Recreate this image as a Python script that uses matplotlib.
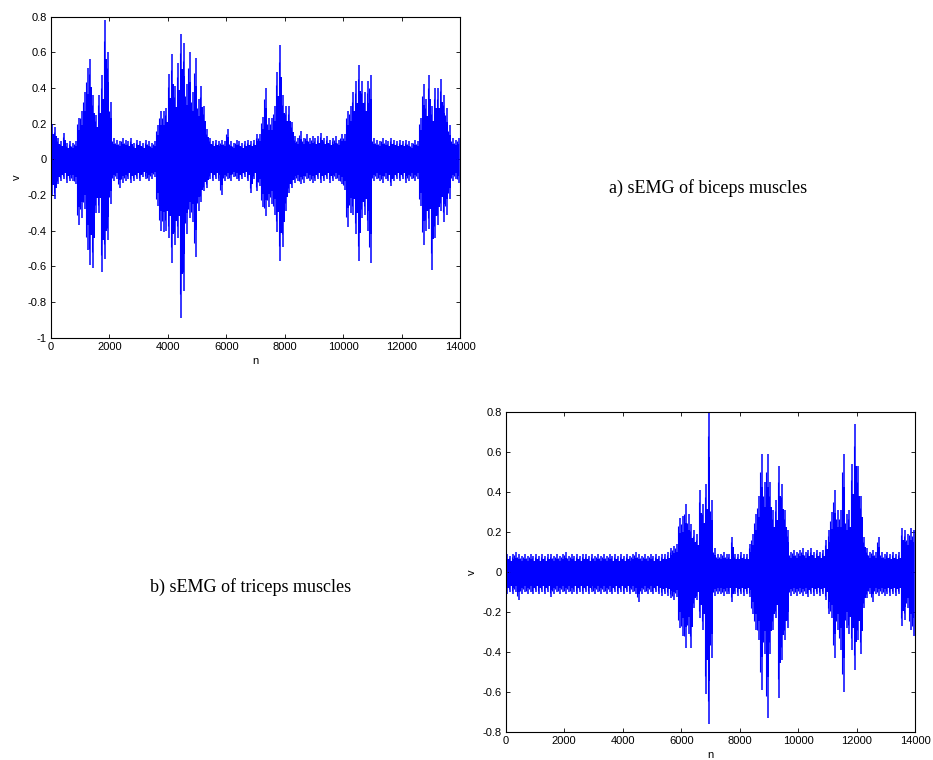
import numpy as np
import matplotlib
matplotlib.use("Agg")
import matplotlib.pyplot as plt
from matplotlib.ticker import FuncFormatter

# envelope of the signal, max / min per block of 100 samples
bin_size = 100

biceps_hi = [0.20, 0.18, 0.12, 0.10, 0.15, 0.09, 0.10, 0.09, 0.10, 0.23,
             0.27, 0.38, 0.51, 0.56, 0.36, 0.25, 0.36, 0.47, 0.78, 0.60,
             0.32, 0.12, 0.11, 0.10, 0.12, 0.11, 0.10, 0.12, 0.09, 0.11,
             0.10, 0.09, 0.11, 0.10, 0.09, 0.10, 0.19, 0.27, 0.27, 0.29,
             0.48, 0.59, 0.41, 0.54, 0.70, 0.65, 0.42, 0.60, 0.38, 0.57,
             0.34, 0.41, 0.30, 0.17, 0.12, 0.10, 0.11, 0.10, 0.11, 0.10,
             0.17, 0.10, 0.09, 0.11, 0.10, 0.09, 0.10, 0.11, 0.10, 0.11,
             0.14, 0.14, 0.24, 0.40, 0.23, 0.23, 0.30, 0.49, 0.64, 0.36,
             0.30, 0.30, 0.21, 0.13, 0.12, 0.16, 0.12, 0.14, 0.12, 0.13,
             0.12, 0.13, 0.15, 0.12, 0.13, 0.11, 0.12, 0.13, 0.11, 0.14,
             0.14, 0.27, 0.30, 0.38, 0.44, 0.53, 0.44, 0.38, 0.44, 0.47,
             0.12, 0.11, 0.10, 0.12, 0.11, 0.10, 0.12, 0.11, 0.10, 0.11,
             0.10, 0.11, 0.10, 0.09, 0.11, 0.10, 0.23, 0.42, 0.34, 0.47,
             0.30, 0.40, 0.40, 0.45, 0.36, 0.29, 0.19, 0.12, 0.11, 0.12]
biceps_lo = [-0.20, -0.22, -0.14, -0.12, -0.11, -0.13, -0.12, -0.12, -0.14, -0.37,
             -0.33, -0.28, -0.51, -0.59, -0.61, -0.30, -0.30, -0.63, -0.56, -0.45,
             -0.25, -0.12, -0.11, -0.16, -0.13, -0.12, -0.11, -0.13, -0.12, -0.11,
             -0.12, -0.10, -0.11, -0.12, -0.11, -0.10, -0.26, -0.40, -0.41, -0.40,
             -0.44, -0.58, -0.48, -0.44, -0.89, -0.74, -0.42, -0.33, -0.35, -0.55,
             -0.29, -0.24, -0.18, -0.16, -0.11, -0.12, -0.11, -0.12, -0.20, -0.12,
             -0.11, -0.12, -0.10, -0.11, -0.12, -0.11, -0.10, -0.12, -0.19, -0.11,
             -0.18, -0.15, -0.27, -0.32, -0.27, -0.25, -0.31, -0.41, -0.57, -0.49,
             -0.29, -0.19, -0.16, -0.13, -0.12, -0.14, -0.13, -0.11, -0.12, -0.13,
             -0.12, -0.11, -0.13, -0.12, -0.11, -0.13, -0.12, -0.11, -0.12, -0.14,
             -0.17, -0.38, -0.30, -0.31, -0.42, -0.57, -0.33, -0.31, -0.40, -0.58,
             -0.12, -0.11, -0.12, -0.13, -0.11, -0.12, -0.15, -0.12, -0.11, -0.12,
             -0.11, -0.13, -0.12, -0.11, -0.12, -0.11, -0.26, -0.48, -0.40, -0.39,
             -0.62, -0.44, -0.37, -0.29, -0.35, -0.31, -0.22, -0.12, -0.11, -0.13]

triceps_hi = [0.09, 0.08, 0.09, 0.10, 0.09, 0.08, 0.09, 0.08, 0.09, 0.08,
              0.09, 0.08, 0.09, 0.08, 0.09, 0.09, 0.08, 0.09, 0.08, 0.09,
              0.10, 0.08, 0.09, 0.08, 0.09, 0.08, 0.09, 0.09, 0.08, 0.09,
              0.08, 0.09, 0.08, 0.09, 0.08, 0.09, 0.08, 0.09, 0.08, 0.09,
              0.08, 0.09, 0.08, 0.09, 0.10, 0.09, 0.08, 0.09, 0.08, 0.09,
              0.08, 0.09, 0.08, 0.09, 0.09, 0.10, 0.12, 0.13, 0.14, 0.27,
              0.28, 0.34, 0.29, 0.24, 0.21, 0.19, 0.41, 0.34, 0.44, 0.80,
              0.36, 0.12, 0.09, 0.09, 0.10, 0.09, 0.09, 0.175, 0.09, 0.09,
              0.10, 0.09, 0.09, 0.14, 0.19, 0.29, 0.38, 0.59, 0.45, 0.59,
              0.45, 0.31, 0.36, 0.53, 0.44, 0.31, 0.21, 0.10, 0.11, 0.10,
              0.11, 0.12, 0.10, 0.11, 0.12, 0.10, 0.11, 0.10, 0.11, 0.16,
              0.21, 0.30, 0.41, 0.31, 0.31, 0.59, 0.29, 0.31, 0.54, 0.74,
              0.53, 0.38, 0.175, 0.12, 0.10, 0.11, 0.10, 0.175, 0.10, 0.09,
              0.10, 0.09, 0.10, 0.09, 0.10, 0.22, 0.21, 0.19, 0.22, 0.21]
triceps_lo = [-0.11, -0.10, -0.11, -0.10, -0.14, -0.11, -0.10, -0.11, -0.10, -0.11,
              -0.10, -0.11, -0.10, -0.11, -0.10, -0.125, -0.11, -0.10, -0.11, -0.10,
              -0.11, -0.10, -0.11, -0.10, -0.11, -0.10, -0.11, -0.10, -0.11, -0.10,
              -0.11, -0.10, -0.11, -0.10, -0.11, -0.10, -0.11, -0.10, -0.11, -0.10,
              -0.11, -0.10, -0.11, -0.10, -0.11, -0.15, -0.11, -0.10, -0.11, -0.10,
              -0.11, -0.10, -0.11, -0.12, -0.11, -0.12, -0.13, -0.14, -0.125, -0.28,
              -0.32, -0.38, -0.31, -0.38, -0.18, -0.14, -0.23, -0.29, -0.61, -0.76,
              -0.43, -0.12, -0.11, -0.11, -0.12, -0.11, -0.11, -0.15, -0.11, -0.12,
              -0.11, -0.12, -0.11, -0.125, -0.21, -0.29, -0.34, -0.59, -0.41, -0.73,
              -0.41, -0.29, -0.23, -0.63, -0.44, -0.34, -0.28, -0.12, -0.11, -0.12,
              -0.11, -0.12, -0.11, -0.125, -0.11, -0.12, -0.11, -0.12, -0.11, -0.14,
              -0.21, -0.23, -0.43, -0.29, -0.39, -0.60, -0.28, -0.31, -0.39, -0.49,
              -0.34, -0.41, -0.18, -0.13, -0.11, -0.15, -0.11, -0.12, -0.11, -0.12,
              -0.11, -0.12, -0.11, -0.12, -0.11, -0.27, -0.24, -0.18, -0.29, -0.32]

x_ticks = [0, 2000, 4000, 6000, 8000, 10000, 12000, 14000]
top_yticks = [-1, -0.8, -0.6, -0.4, -0.2, 0, 0.2, 0.4, 0.6, 0.8]
bot_yticks = [-0.8, -0.6, -0.4, -0.2, 0, 0.2, 0.4, 0.6, 0.8]

plt.rcParams['font.family'] = ['Liberation Sans', 'DejaVu Sans']

blue = '#0000ff'


def draw_signal(ax, hi, lo):
    hi = np.asarray(hi)
    lo = np.asarray(lo)
    n = np.arange(len(hi)) * bin_size + bin_size / 2
    # dense core of the trace, then hairlines per block out to its max/min
    ax.fill_between(n, 0.72 * lo, 0.72 * hi, step='mid', color=blue, lw=0)
    ax.vlines(n, lo, hi, color=blue, lw=1.1)
    ax.vlines(n - bin_size / 2, 0.85 * lo, 0.85 * hi, color=blue, lw=0.8)


def style(ax, yticks, ylim):
    ax.set_xlim(0, 14000)
    ax.set_ylim(*ylim)
    ax.set_xticks(x_ticks)
    ax.set_yticks(yticks)
    ax.yaxis.set_major_formatter(FuncFormatter(lambda y, p: '%g' % round(y, 2)))
    ax.tick_params(direction='in', top=True, right=True, length=3, width=0.6,
                   labelsize=8, pad=3)
    for s in ax.spines.values():
        s.set_linewidth(0.8)
    ax.set_xlabel('n', fontsize=8, labelpad=3)
    ax.set_ylabel('v', fontsize=8, labelpad=4)


fig = plt.figure(figsize=(9.33, 7.6), dpi=100)

ax1 = fig.add_axes([0.0547, 0.5557, 0.4384, 0.4224])
draw_signal(ax1, biceps_hi, biceps_lo)
style(ax1, top_yticks, (-1, 0.8))

ax2 = fig.add_axes([0.542, 0.0372, 0.439, 0.4203])
draw_signal(ax2, triceps_hi, triceps_lo)
style(ax2, bot_yticks, (-0.8, 0.8))

fig.text(708 / 933, 1 - 188 / 760, 'a) sEMG of biceps muscles', ha='center', va='center',
         fontsize=13, family=['Liberation Serif', 'DejaVu Serif'])
fig.text(251 / 933, 1 - 587 / 760, 'b) sEMG of triceps muscles', ha='center', va='center',
         fontsize=13, family=['Liberation Serif', 'DejaVu Serif'])

fig.savefig('out.png', dpi=100)
